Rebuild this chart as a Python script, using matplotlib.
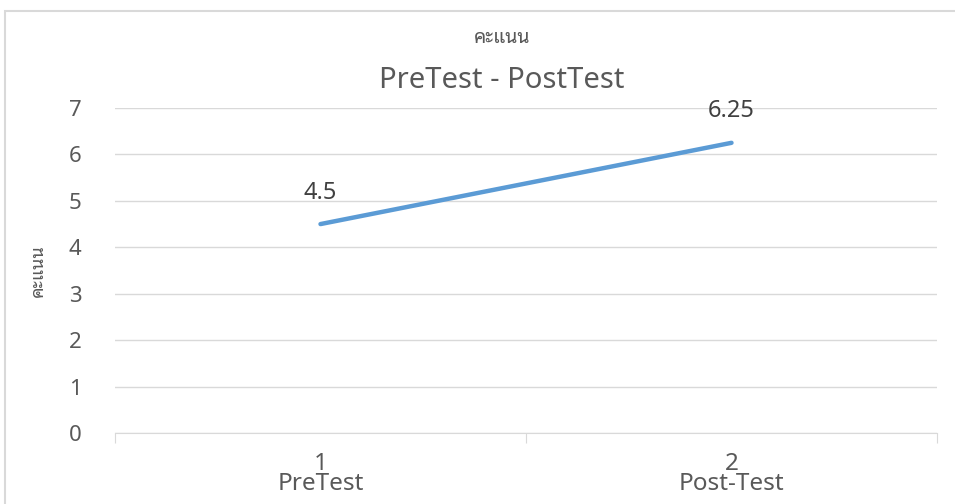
import matplotlib
matplotlib.use('Agg')
import matplotlib.pyplot as plt
from matplotlib.patches import Rectangle

# ข้อมูล
categories = ['1\nPreTest', '2\nPost-Test']
scores = [4.5, 6.25]
value_labels = ['4.5', '6.25']

plt.rcParams['font.family'] = ['Liberation Sans Narrow', 'Noto Sans Thai Looped', 'DejaVu Sans']

fig = plt.figure(figsize=(9.55, 5.04), dpi=100)
fig.patches.append(Rectangle((5 / 955, -0.1), 1.2, 1.1 - 11 / 504, transform=fig.transFigure,
                             facecolor='white', edgecolor='#d9d9d9', linewidth=1.5, zorder=-5))
ax = fig.add_axes([115 / 955, 1 - 433 / 504, (937 - 115) / 955, (433 - 108) / 504])
ax.set_facecolor('none')

x = [1, 2]
ax.plot(x, scores, color='#5b9bd5', linewidth=3.2, solid_capstyle='round', zorder=3)
for xi, yi, lab in zip(x, scores, value_labels):
    ax.annotate(lab, (xi, yi), xytext=(0, 14), textcoords='offset points', ha='center',
                va='bottom', fontsize=17, color='#404040')

ax.set_xlim(0.5, 2.5)
ax.set_ylim(0, 7)
ax.set_yticks(range(8))
ax.tick_params(axis='y', length=0, labelsize=16, labelcolor='#595959', pad=24)
ax.yaxis.grid(True, color='#d9d9d9', linewidth=1)
ax.set_axisbelow(True)

ax.set_xticks([0.5, 1.5, 2.5])
ax.set_xticklabels([])
ax.set_xticks(x, minor=True)
ax.set_xticklabels(categories, minor=True, fontsize=17.5, color='#595959', linespacing=0.78)
ax.tick_params(axis='x', which='major', length=7, color='#d9d9d9')
ax.tick_params(axis='x', which='minor', length=0, pad=14)

for s in ['top', 'right', 'left']:
    ax.spines[s].set_visible(False)
ax.spines['bottom'].set_color('#d9d9d9')

ax.set_ylabel('คะแนน', fontsize=13, color='#595959', labelpad=16, fontweight='light')
fig.text(502 / 955, 1 - 38 / 504, 'คะแนน', ha='center', va='center', fontsize=14, color='#595959',
         fontweight='light')
fig.text(502 / 955, 1 - 80 / 504, 'PreTest - PostTest', ha='center', va='center', fontsize=21,
         color='#595959')

fig.savefig('out.png', dpi=100)
